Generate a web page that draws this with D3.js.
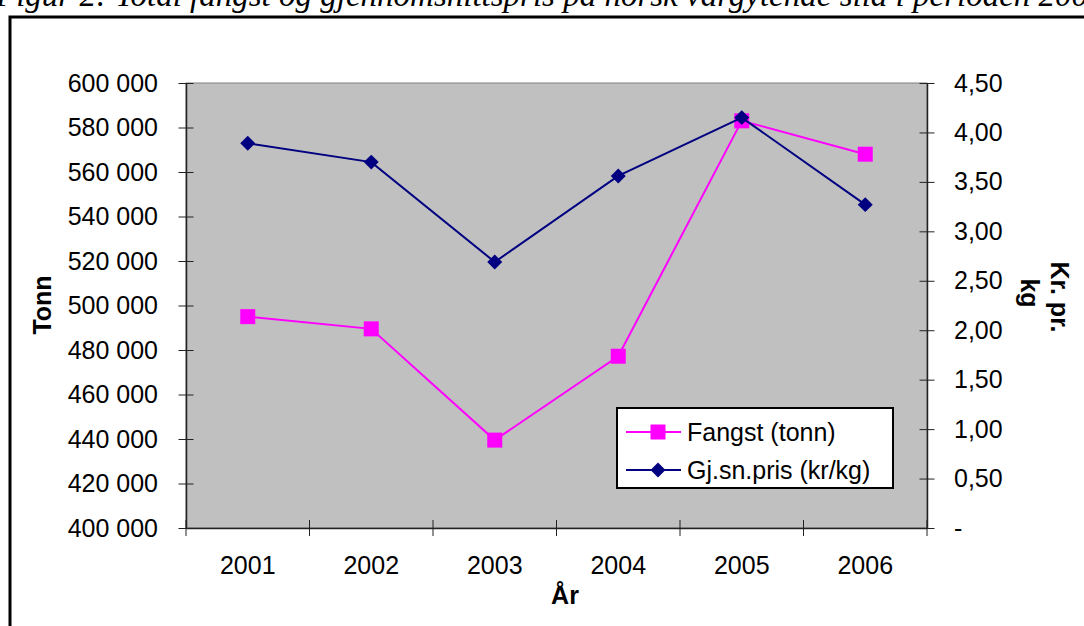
<!DOCTYPE html>
<html>
  <body style="margin:0;background:#fff">
    <style>
      svg text { font-family: "Liberation Sans", Arial, sans-serif; fill: #000; }
      .tick text { font-size: 25px; }
    </style>
    <script src="https://cdn.jsdelivr.net/npm/d3@7"></script>
    <script type="text/javascript">
      const width = 1084;
      const height = 626;

      const years = ['2001', '2002', '2003', '2004', '2005', '2006'];
      const fangst = [495000, 489500, 439500, 477200, 583000, 568000];
      const pris = [3.89, 3.70, 2.69, 3.56, 4.15, 3.27];
      const leftTicks = [400000, 420000, 440000, 460000, 480000, 500000, 520000, 540000, 560000, 580000, 600000];
      const rightTicks = [0, 0.5, 1, 1.5, 2, 2.5, 3, 3.5, 4, 4.5];
      const seriesNames = ['Fangst (tonn)', 'Gj.sn.pris (kr/kg)'];
      const colors = ['#ff00ff', '#000080'];

      const plot = { left: 186, right: 927, top: 83, bottom: 528 };

      const no = d3.formatLocale({ decimal: ',', thousands: ' ', grouping: [3], currency: ['', ''] });
      const fmtThousands = no.format(',');
      const fmtPrice = no.format(',.2f');

      const svg = d3.select('body')
        .append('svg')
        .attr('width', width)
        .attr('height', height);

      // title cut off at the top, as in the source
      svg.append('text')
        .attr('x', -4)
        .attr('y', 6)
        .style('font-family', '"Liberation Serif", "Times New Roman", serif')
        .style('font-style', 'italic')
        .style('font-size', '33px')
        .text('Figur 2: Total fangst og gjennomsnittspris på norsk vårgytende sild i perioden 2001-2006');

      // chart frame
      svg.append('rect')
        .attr('x', 10)
        .attr('y', 17)
        .attr('width', width + 20)
        .attr('height', height)
        .attr('fill', 'none')
        .attr('stroke', '#000')
        .attr('stroke-width', 3);

      const x = d3.scaleBand().domain(years).range([plot.left, plot.right]);
      const yL = d3.scaleLinear().domain([400000, 600000]).range([plot.bottom, plot.top]);
      const yR = d3.scaleLinear().domain([0, 4.5]).range([plot.bottom, plot.top]);

      svg.append('rect')
        .attr('x', plot.left)
        .attr('y', plot.top)
        .attr('width', plot.right - plot.left)
        .attr('height', plot.bottom - plot.top)
        .attr('fill', '#c0c0c0')
        .attr('stroke', '#808080')
        .attr('stroke-width', 1);

      // left axis
      const gL = svg.append('g')
        .attr('transform', `translate(${plot.left},0)`)
        .call(d3.axisLeft(yL).tickValues(leftTicks).tickFormat(fmtThousands).tickSizeOuter(0).tickPadding(22));
      gL.selectAll('.tick line').attr('x1', 7.5).attr('x2', -7.5).attr('stroke', '#222');
      gL.select('.domain').attr('stroke', '#222').attr('stroke-width', 1.5);

      // right axis
      const gR = svg.append('g')
        .attr('transform', `translate(${plot.right},0)`)
        .call(d3.axisRight(yR).tickValues(rightTicks)
          .tickFormat((d) => d === 0 ? '-' : fmtPrice(d)).tickSizeOuter(0).tickPadding(21));
      gR.selectAll('.tick line').attr('x1', -7.5).attr('x2', 7.5).attr('stroke', '#222');
      gR.select('.domain').attr('stroke', '#222').attr('stroke-width', 1.5);

      // bottom axis: labels centred, ticks on category boundaries
      const gB = svg.append('g')
        .attr('transform', `translate(0,${plot.bottom})`)
        .call(d3.axisBottom(x).tickSize(0).tickPadding(28));
      gB.select('.domain').attr('stroke', '#222').attr('stroke-width', 1.5);
      gB.selectAll('.bound')
        .data(years.concat(['end']))
        .enter()
        .append('line')
        .attr('class', 'bound')
        .attr('x1', (d, i) => plot.left + i * x.step())
        .attr('x2', (d, i) => plot.left + i * x.step())
        .attr('y1', -8)
        .attr('y2', 8)
        .attr('stroke', '#222');

      // axis titles
      svg.append('text')
        .attr('transform', `translate(51,305) rotate(-90)`)
        .attr('text-anchor', 'middle')
        .style('font-size', '25px')
        .style('font-weight', 'bold')
        .text('Tonn');

      svg.append('text')
        .attr('x', 565)
        .attr('y', 604)
        .attr('text-anchor', 'middle')
        .style('font-size', '25px')
        .style('font-weight', 'bold')
        .text('År');

      const rt = svg.append('text')
        .attr('transform', `translate(1051,297) rotate(90)`)
        .attr('text-anchor', 'middle')
        .style('font-size', '25px')
        .style('font-weight', 'bold');
      rt.append('tspan').attr('x', 0).attr('y', 0).text('Kr. pr.');
      rt.append('tspan').attr('x', -4).attr('y', 30).text('kg');

      const cx = (d, i) => x(years[i]) + x.bandwidth() / 2;

      // Fangst line
      svg.append('path')
        .datum(fangst)
        .attr('fill', 'none')
        .attr('stroke', colors[0])
        .attr('stroke-width', 2)
        .attr('d', d3.line().x(cx).y((d) => yL(d)));
      svg.selectAll('.sq')
        .data(fangst)
        .enter()
        .append('rect')
        .attr('class', 'sq')
        .attr('x', (d, i) => cx(d, i) - 7.5)
        .attr('y', (d) => yL(d) - 7.5)
        .attr('width', 15)
        .attr('height', 15)
        .attr('fill', colors[0]);

      // price line
      svg.append('path')
        .datum(pris)
        .attr('fill', 'none')
        .attr('stroke', colors[1])
        .attr('stroke-width', 2)
        .attr('d', d3.line().x(cx).y((d) => yR(d)));
      const diamond = d3.symbol().type(d3.symbolSquare).size(112);
      svg.selectAll('.dm')
        .data(pris)
        .enter()
        .append('path')
        .attr('class', 'dm')
        .attr('transform', (d, i) => `translate(${cx(d, i)},${yR(d)}) rotate(45)`)
        .attr('d', diamond)
        .attr('fill', colors[1]);

      // legend
      const lg = svg.append('g').attr('transform', 'translate(617,408)');
      lg.append('rect')
        .attr('width', 276)
        .attr('height', 80)
        .attr('fill', '#fff')
        .attr('stroke', '#000')
        .attr('stroke-width', 2);
      const rows = lg.selectAll('.row')
        .data(seriesNames)
        .enter()
        .append('g')
        .attr('transform', (d, i) => `translate(0,${24 + i * 38})`);
      rows.append('line')
        .attr('x1', 9).attr('x2', 64)
        .attr('stroke', (d, i) => colors[i])
        .attr('stroke-width', 2);
      rows.filter((d, i) => i === 0).append('rect')
        .attr('x', 41 - 7.5).attr('y', -7.5).attr('width', 15).attr('height', 15)
        .attr('fill', colors[0]);
      rows.filter((d, i) => i === 1).append('path')
        .attr('transform', 'translate(41,0) rotate(45)')
        .attr('d', diamond)
        .attr('fill', colors[1]);
      rows.append('text')
        .attr('x', 70)
        .attr('dy', '0.35em')
        .style('font-size', '25px')
        .text((d) => d);
    </script>
  </body>
</html>
